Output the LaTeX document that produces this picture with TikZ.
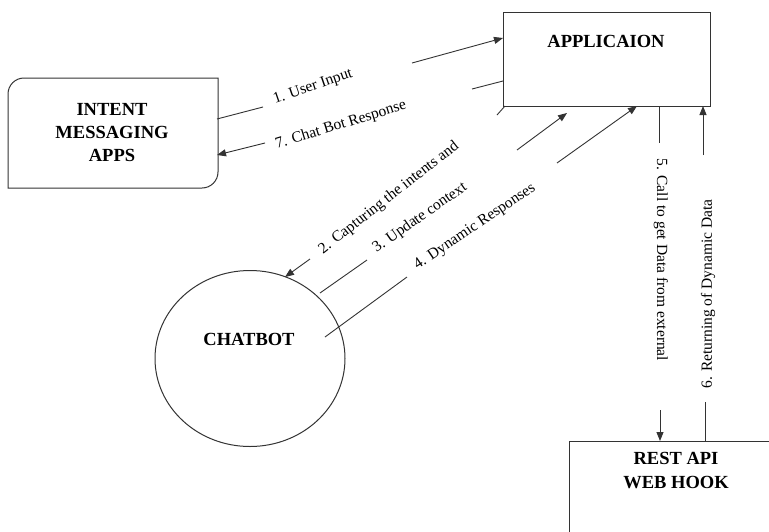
\documentclass[tikz,border=0pt]{standalone}
\usepackage{fontspec}
\setmainfont{Liberation Serif}
\usetikzlibrary{arrows.meta,shapes.geometric}
\begin{document}
\begin{tikzpicture}[x=1pt,y=-1pt,
  frame/.style={draw=black!80, line width=1pt},
  edge/.style={draw=black!80, line width=0.9pt},
  flow/.style={edge, -{Triangle[length=9pt,width=7pt]}},
  title/.style={font=\bfseries\fontsize{18.5}{23}\selectfont, align=center, inner sep=0pt},
  tag/.style={font=\fontsize{15.5}{18}\selectfont, inner sep=0pt}]
\clip (0,0) rectangle (769,531);
\fill[white] (0,0) rectangle (769,531);

% application box
\node[frame, minimum width=207pt, minimum height=94pt, inner sep=0pt] (app) at (606.5,59) {};
\node[title, anchor=base] (apptext) at (606,47) {APPLICAION};

% messaging apps box: rounded top-left and bottom-right corners
\node[minimum width=210pt, minimum height=110pt, inner sep=0pt] (intent) at (113,133) {};
\draw[frame] (8,94) .. controls (8,85.2) and (15.2,78) .. (24,78) -- (218,78) -- (218,172)
  .. controls (218,180.8) and (210.8,188) .. (202,188) -- (8,188) -- cycle;
\node[title] (intenttext) at (112,133) {INTENT\\MESSAGING\\APPS};

% chatbot
\node[frame, ellipse, minimum width=190pt, minimum height=176pt, inner sep=0pt] (chatbot) at (250,358.5) {};
\node[title] (bottext) at (249,339) {CHATBOT};

% REST API box (runs past the page edge)
\node[frame, minimum width=230pt, minimum height=120pt, inner sep=0pt, anchor=north west] (rest) at (569,441) {};
\node[title, font=\bfseries\fontsize{18.5}{24}\selectfont] (resttext) at (676,471) {REST API\\WEB HOOK};

% connector end points
\coordinate (a1) at (217,119); \coordinate (b1) at (263,107);
\coordinate (c1) at (412,63);  \coordinate (d1) at (503,38);
\coordinate (a7) at (503,81);  \coordinate (b7) at (472,89);
\coordinate (c7) at (265,143); \coordinate (d7) at (217,155);
\coordinate (a2) at (505,106); \coordinate (b2) at (497,115);
\coordinate (c2) at (310,259); \coordinate (d2) at (285,277);
\coordinate (a3) at (320,293); \coordinate (b3) at (367,260);
\coordinate (c3) at (517,150); \coordinate (d3) at (567,113);
\coordinate (a4) at (325,337); \coordinate (b4) at (407,277);
\coordinate (c4) at (557,163); \coordinate (d4) at (637,106);
\coordinate (a5) at (659,106); \coordinate (b5) at (659,143);
\coordinate (c5) at (660,410); \coordinate (d5) at (660,441);
\coordinate (a6) at (705,441); \coordinate (b6) at (705,402);
\coordinate (c6) at (703,155); \coordinate (d6) at (703,106);

% connectors, interrupted by their labels
\draw[edge] (a1) -- (b1); \draw[flow] (c1) -- (d1);
\draw[edge] (a7) -- (b7); \draw[flow] (c7) -- (d7);
\draw[edge] (a2) -- (b2); \draw[flow] (c2) -- (d2);
\draw[edge] (a3) -- (b3); \draw[flow] (c3) -- (d3);
\draw[edge] (a4) -- (b4); \draw[flow] (c4) -- (d4);
\draw[edge] (a5) -- (b5); \draw[flow] (c5) -- (d5);
\draw[edge] (a6) -- (b6); \draw[flow] (c6) -- (d6);

% labels
\node[tag, rotate=19] (l1) at (313,87) {1. User Input};
\node[tag, rotate=17] (l7) at (341,125) {7. Chat Bot Response};
\node[tag, rotate=38] (l2) at (389,198) {2. Capturing the intents and};
\node[tag, rotate=35] (l3) at (420,218) {3. Update context};
\node[tag, rotate=34] (l4) at (475,227) {4. Dynamic Responses};
\node[tag, rotate=-90] (l5) at (661,260) {5. Call to get Data from external};
\node[tag, rotate=90] (l6) at (708,294) {6. Returning of Dynamic Data};
\end{tikzpicture}
\end{document}
